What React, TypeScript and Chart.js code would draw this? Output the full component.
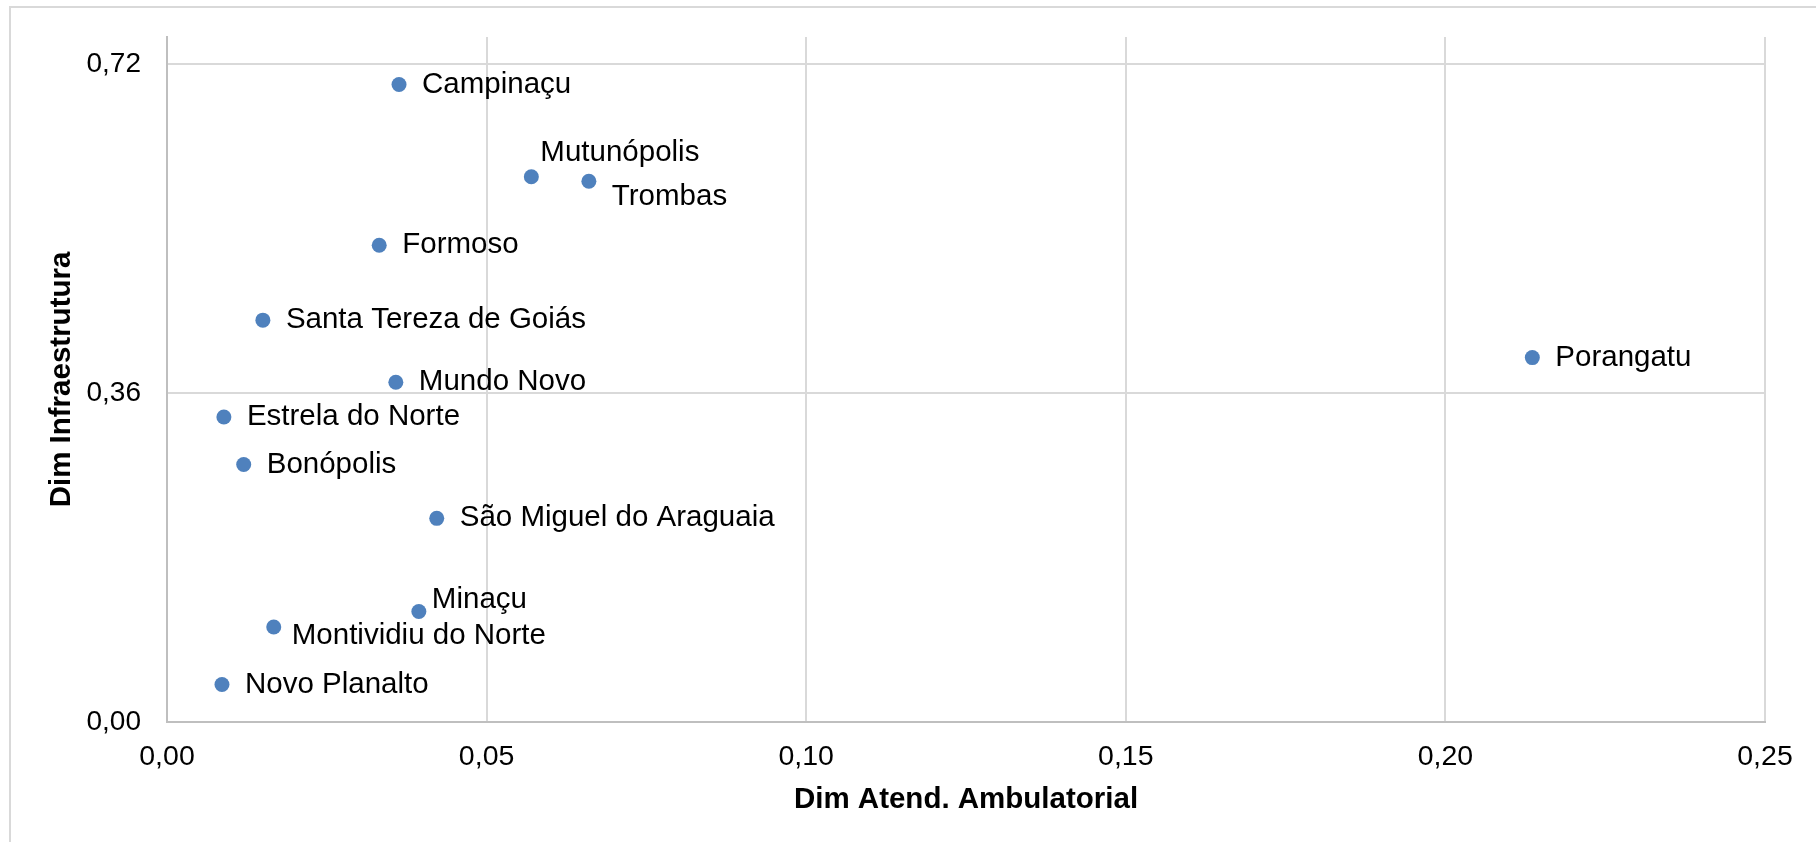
import React, { useEffect, useRef } from "react";
import { Chart, registerables } from "chart.js";

Chart.register(...registerables);

const FONT = '"Liberation Sans", Arial, sans-serif';

// Data
const names = [
  "Campinaçu",
  "Mutunópolis",
  "Trombas",
  "Formoso",
  "Santa Tereza de Goiás",
  "Mundo Novo",
  "Estrela do Norte",
  "Bonópolis",
  "São Miguel do Araguaia",
  "Minaçu",
  "Montividiu do Norte",
  "Novo Planalto",
  "Porangatu",
];
const xValues = [0.0363, 0.057, 0.066, 0.0332, 0.015, 0.0358, 0.0089, 0.012, 0.0422, 0.0394, 0.0167, 0.0086, 0.2136];
const yValues = [0.698, 0.597, 0.592, 0.522, 0.44, 0.372, 0.334, 0.282, 0.223, 0.121, 0.104, 0.041, 0.399];

const xTicks = [0, 0.05, 0.1, 0.15, 0.2, 0.25];
const yTicks = [0, 0.36, 0.72];
const xTitle = "Dim Atend. Ambulatorial";
const yTitle = "Dim Infraestrutura";

// Label placement (style)
const labelPlacement: Record<string, string> = {
  "Mutunópolis": "above",
  "Trombas": "below",
  "Minaçu": "aboveRight",
  "Montividiu do Norte": "belowRight",
};
const OFFSETS: Record<string, [number, number]> = {
  right: [23, 0],
  above: [9, -24],
  below: [23, 16],
  aboveRight: [13, -12],
  belowRight: [18, 9],
};

const fmt = (v: number) => v.toFixed(2).replace(".", ",");

const labelsPlugin = {
  id: "pointLabels",
  afterDatasetsDraw(chart: any) {
    const ctx = chart.ctx;
    const meta = chart.getDatasetMeta(0);
    ctx.save();
    ctx.font = `29.5px ${FONT}`;
    ctx.fillStyle = "#000";
    ctx.textBaseline = "middle";
    ctx.textAlign = "left";
    meta.data.forEach((pt: any, i: number) => {
      const name = names[i];
      const p = labelPlacement[name] || "right";
      const [dx, dy] = OFFSETS[p];
      ctx.fillText(name, pt.x + dx, pt.y + dy);
    });
    ctx.restore();
  },
};

const framePlugin = {
  id: "frame",
  beforeDraw(chart: any) {
    const ctx = chart.ctx;
    ctx.save();
    ctx.strokeStyle = "#d9d9d9";
    ctx.lineWidth = 2;
    ctx.strokeRect(10, 7, 3000, 3000);
    ctx.restore();
  },
};

export default function App() {
  const canvasRef = useRef<HTMLCanvasElement | null>(null);

  useEffect(() => {
    document.body.style.margin = "0";
    const canvas = canvasRef.current;
    if (!canvas) return;
    const chart = new Chart(canvas, {
      type: "scatter",
      data: {
        datasets: [
          {
            data: xValues.map((x, i) => ({ x, y: yValues[i] })),
            backgroundColor: "#4f81bd",
            borderWidth: 0,
            pointRadius: 7.5,
            pointHoverRadius: 7.5,
          },
        ],
      },
      options: {
        animation: false,
        responsive: true,
        maintainAspectRatio: false,
        layout: { padding: { top: 37, right: 51, left: 0, bottom: 0 } },
        plugins: { legend: { display: false }, tooltip: { enabled: false } },
        scales: {
          x: {
            type: "linear",
            min: 0,
            max: 0.25,
            afterBuildTicks: (s: any) => {
              s.ticks = xTicks.map((v) => ({ value: v }));
            },
            afterFit: (s: any) => {
              s.height = 120;
            },
            ticks: {
              callback: (v: any) => fmt(Number(v)),
              font: { family: FONT, size: 28.5 },
              color: "#000",
              padding: 18,
              maxRotation: 0,
            },
            grid: { color: "#d9d9d9", lineWidth: 2, drawTicks: false },
            border: { color: "#bfbfbf", width: 2 },
            title: {
              display: true,
              text: xTitle,
              font: { family: FONT, size: 29.5, weight: "bold" },
              color: "#000",
              padding: { top: 0, bottom: 24 },
            },
          },
          y: {
            type: "linear",
            min: 0,
            max: 0.75,
            afterBuildTicks: (s: any) => {
              s.ticks = yTicks.map((v) => ({ value: v }));
            },
            afterFit: (s: any) => {
              s.width = 167;
              s.paddingTop = 0;
              s.paddingBottom = 0;
            },
            ticks: {
              callback: (v: any) => fmt(Number(v)),
              font: { family: FONT, size: 28 },
              color: "#000",
              padding: 26,
            },
            grid: { color: "#d9d9d9", lineWidth: 2, drawTicks: false },
            border: { color: "#bfbfbf", width: 2 },
            title: {
              display: true,
              text: yTitle,
              font: { family: FONT, size: 29.5, weight: "bold" },
              color: "#000",
              padding: { top: 44, bottom: 0 },
            },
          },
        },
      },
      plugins: [framePlugin, labelsPlugin],
    });
    return () => chart.destroy();
  }, []);

  return (
    <div style={{ position: "relative", width: "1816px", height: "842px" }}>
      <canvas ref={canvasRef} />
    </div>
  );
}
